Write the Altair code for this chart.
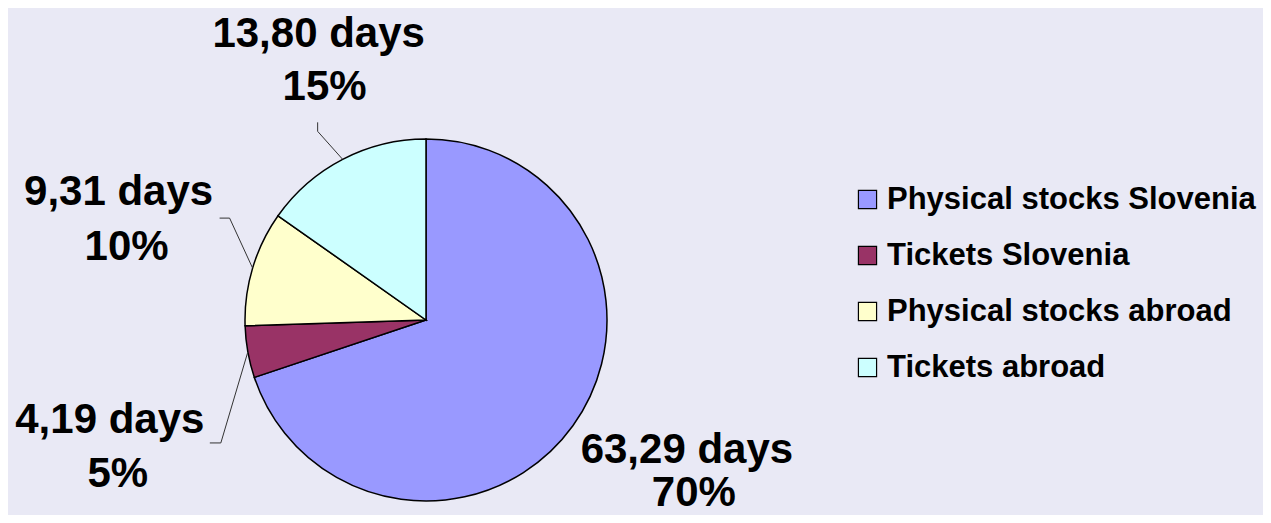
import math
import altair as alt
import pandas as pd

# ---- data ----
categories = ["Physical stocks Slovenia", "Tickets Slovenia", "Physical stocks abroad", "Tickets abroad"]
days = [63.29, 4.19, 9.31, 13.80]
day_labels = ["63,29 days", "4,19 days", "9,31 days", "13,80 days"]
pct_labels = ["70%", "5%", "10%", "15%"]
colors = ["#9999FF", "#993366", "#FFFFCC", "#CCFFFF"]

# ---- layout ----
W, H = 1255, 507
CX, CY, R = 418, 312, 181
FONT = "Liberation Sans, Arial, sans-serif"
# label offsets relative to the rim point at the slice's mid angle
label_off = {
    "Physical stocks Slovenia": ((114, 37), (121, 80)),
    "Tickets Slovenia": ((-138, 81), (-130, 135)),
    "Physical stocks abroad": ((-134, -63), (-126, -8)),
    "Tickets abroad": ((-24, -112), (-18, -59)),
}
leader_off = {
    "Tickets Slovenia": [(-27, 91), (-38, 91)],
    "Physical stocks abroad": [(-23, -50), (-33, -50)],
    "Tickets abroad": [(-25, -28), (-25, -37)],
}

total = sum(days)
pie_df = pd.DataFrame({"cat": categories, "days": days, "idx": list(range(len(categories)))})

# rim points at mid angles (derived from the data)
rim = {}
acc = 0.0
for c, v in zip(categories, days):
    mid = (acc + v / 2) / total * 2 * math.pi
    rim[c] = (CX + R * math.sin(mid), CY - R * math.cos(mid))
    acc += v

text_rows = []
for c, d, p in zip(categories, day_labels, pct_labels):
    (dx1, dy1), (dx2, dy2) = label_off[c]
    rx, ry = rim[c]
    text_rows.append({"t": d, "x": rx + dx1, "y": ry + dy1})
    text_rows.append({"t": p, "x": rx + dx2, "y": ry + dy2})
text_df = pd.DataFrame(text_rows)

line_rows = []
for c, pts in leader_off.items():
    rx, ry = rim[c]
    line_rows.append({"g": c, "o": 0, "x": rx, "y": ry})
    for i, (ox, oy) in enumerate(pts):
        line_rows.append({"g": c, "o": i + 1, "x": rx + ox, "y": ry + oy})
line_df = pd.DataFrame(line_rows)

xs = alt.Scale(domain=[0, W], nice=False, zero=False)
ys = alt.Scale(domain=[0, H], nice=False, zero=False, reverse=True)

pie = alt.Chart(pie_df).mark_arc(radius=R, stroke="black", strokeWidth=1.5).encode(
    theta=alt.Theta("days:Q", stack=True),
    order=alt.Order("idx:Q"),
    color=alt.Color(
        "cat:N",
        scale=alt.Scale(domain=categories, range=colors),
        legend=alt.Legend(
            title=None,
            orient="none",
            legendX=844,
            legendY=176,
            symbolType="square",
            symbolSize=330,
            symbolStrokeColor="black",
            symbolStrokeWidth=1.2,
            labelFont=FONT,
            labelFontWeight="bold",
            labelFontSize=31,
            labelColor="black",
            labelOffset=4,
            rowPadding=24,
            padding=0,
            labelLimit=600,
        ),
    ),
    x=alt.value(CX),
    y=alt.value(CY),
)

leaders = alt.Chart(line_df).mark_line(color="#333333", strokeWidth=1).encode(
    x=alt.X("x:Q", scale=xs, axis=None),
    y=alt.Y("y:Q", scale=ys, axis=None),
    detail="g:N",
    order="o:Q",
)

labels = alt.Chart(text_df).mark_text(
    font=FONT, fontWeight="bold", fontSize=42, color="black", align="center", baseline="alphabetic"
).encode(
    x=alt.X("x:Q", scale=xs, axis=None),
    y=alt.Y("y:Q", scale=ys, axis=None),
    text="t:N",
)

chart = alt.layer(pie, leaders, labels).properties(
    width=W,
    height=H,
    autosize=alt.AutoSizeParams(type="none"),
    padding=0,
    background="#e9e9f5",
).configure_view(stroke=None)

chart.save("out.html", embed_options={"renderer": "svg", "actions": False})
